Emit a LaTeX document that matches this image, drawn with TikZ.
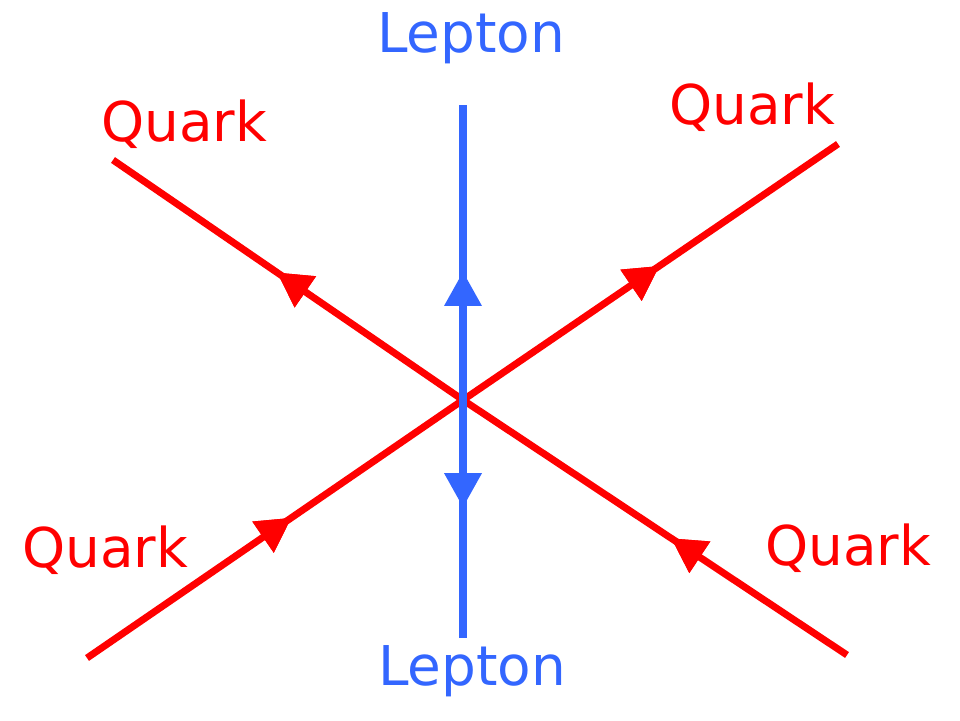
\documentclass[tikz,border=0pt]{standalone}
\usepackage{fontspec}
\setmainfont{DejaVu Sans}
\usepackage{tikz}
\usetikzlibrary{arrows.meta,decorations.markings}
\definecolor{quarkred}{RGB}{255,0,0}
\definecolor{leptonblue}{RGB}{51,102,255}

\begin{document}
\begin{tikzpicture}[
  quarkline/.style={draw=quarkred, line width=0.175cm},
  leptonline/.style={draw=leptonblue, line width=0.2cm},
  midarrow/.style={postaction={decorate}, decoration={markings,
      mark=at position #1 with {\arrow{Triangle[length=0.85cm,width=0.95cm,line width=0pt]}}}},
  partname/.style={anchor=base, font=\fontsize{39}{44}\selectfont}
]
\useasboundingbox (0cm,0cm) rectangle (24cm,18cm);

% vertex and outer ends
\coordinate (vertex) at (11.575cm,8.0cm);
\coordinate (ltop) at (11.575cm,15.375cm);
\coordinate (lbot) at (11.575cm,2.05cm);
\coordinate (qtl) at (2.825cm,14.0cm);
\coordinate (qbr) at (21.175cm,1.625cm);
\coordinate (qbl) at (2.175cm,1.55cm);
\coordinate (qtr) at (20.95cm,14.4cm);

% quarks
\draw [quarkline, midarrow=0.238, midarrow=0.775] (qbr) -- (vertex) -- (qtl);
\draw [quarkline, midarrow=0.272, midarrow=0.762] (qbl) -- (vertex) -- (qtr);

% leptons
\draw [leptonline, midarrow=0.434] (vertex) -- (ltop);
\draw [leptonline, midarrow=0.45] (vertex) -- (lbot);

\node (lepup) [partname, text=leptonblue] at (11.775cm,16.675cm) {Lepton};
\node (lepdown) [partname, text=leptonblue] at (11.8cm,0.875cm) {Lepton};
\node (quarktl) [partname, text=quarkred] at (4.6cm,14.45cm) {Quark};
\node (quarktr) [partname, text=quarkred] at (18.8cm,14.875cm) {Quark};
\node (quarkbr) [partname, text=quarkred] at (21.2cm,3.875cm) {Quark};
\node (quarkbl) [partname, text=quarkred] at (2.625cm,3.825cm) {Quark};
\end{tikzpicture}
\end{document}
